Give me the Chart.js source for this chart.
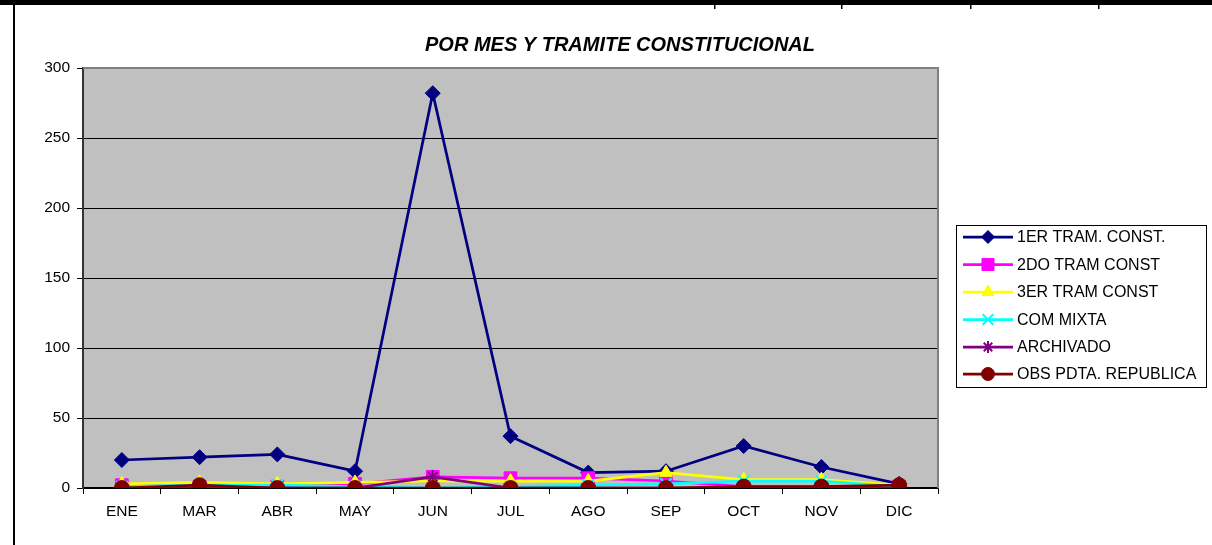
<!DOCTYPE html>
<html><head><meta charset="utf-8">
<script src="https://cdn.jsdelivr.net/npm/chart.js@4/dist/chart.umd.min.js"></script>
<style>html,body{margin:0;padding:0;background:#fff;overflow:hidden}canvas{display:block}</style>
</head><body>
<canvas id="c" width="1212" height="545" style="width:1212px;height:545px"></canvas>
<script>
// ---- data ----
const categories = ['ENE','MAR','ABR','MAY','JUN','JUL','AGO','SEP','OCT','NOV','DIC'];
const seriesNames = ['1ER TRAM. CONST.','2DO TRAM CONST','3ER TRAM CONST','COM MIXTA','ARCHIVADO','OBS PDTA. REPUBLICA'];
const primerTramite  = [20, 22, 24, 12, 282, 37, 11, 12, 30, 15, 3];
const segundoTramite = [2, 1, 1, 3, 8, 7, 7, 5, 1, 1, 1];
const tercerTramite  = [3, 4, 3, 4, 5, 5, 5, 11, 6, 6, 2];
const comMixta       = [1, 2, 2, 1, 0, 1, 2, 3, 5, 5, 1];
const archivado      = [0, 0, 0, 0, 8, 0, 0, 0, 0, 0, 0];
const obsPdta        = [0, 2, 0, 0, 0, 0, 0, 0, 1, 1, 2];
const yTicks = [0, 50, 100, 150, 200, 250, 300];
const chartTitle = 'POR MES Y TRAMITE CONSTITUCIONAL';

// ---- styles ----
const FONT = 'Liberation Sans, Arial, sans-serif';
const seriesValues = [primerTramite, segundoTramite, tercerTramite, comMixta, archivado, obsPdta];
const seriesStyles = [
  {color:'#000080', point:'rectRot',  r:7.5, lr:6.5, bw:1},
  {color:'#FF00FF', point:'rect',     r:9,   lr:8.5, bw:1},
  {color:'#FFFF00', point:'triangle', r:7.5, lr:7,   bw:1},
  {color:'#00FFFF', point:'crossRot', r:8,   lr:7.5, bw:2},
  {color:'#800080', point:'star',     r:6.5, lr:6,   bw:2},
  {color:'#800000', point:'circle',   r:7.5, lr:6.5, bw:1}
];
const PLOT = {left:83, right:938, top:68, bottom:488};

Chart.defaults.font.family = FONT;

const datasets = seriesValues.map((vals, i) => ({
  label: seriesNames[i],
  data: vals,
  borderColor: seriesStyles[i].color,
  backgroundColor: seriesStyles[i].color,
  pointBackgroundColor: seriesStyles[i].color,
  pointBorderColor: seriesStyles[i].color,
  pointStyle: seriesStyles[i].point,
  pointRadius: seriesStyles[i].r,
  pointBorderWidth: seriesStyles[i].bw,
  pointHoverRadius: seriesStyles[i].r,
  borderWidth: 2.75,
  tension: 0,
  fill: false,
  order: seriesValues.length - 1 - i
}));

function drawMarker(ctx, st, x, y) {
  ctx.save();
  ctx.fillStyle = st.color;
  ctx.strokeStyle = st.color;
  ctx.lineWidth = st.bw;
  if (Chart.helpers && Chart.helpers.drawPoint) {
    Chart.helpers.drawPoint(ctx, {pointStyle: st.point, radius: st.lr, borderWidth: st.bw, rotation: 0}, x, y);
  } else {
    ctx.beginPath(); ctx.arc(x, y, st.lr, 0, Math.PI*2); ctx.fill();
  }
  ctx.restore();
}

const framePlugin = {
  id: 'frame',
  beforeDraw(chart) {
    const {ctx, chartArea: a} = chart;
    ctx.save();
    ctx.fillStyle = '#fff';
    ctx.fillRect(0, 0, chart.width, chart.height);
    ctx.fillStyle = '#C0C0C0';
    ctx.fillRect(a.left, a.top, a.right - a.left, a.bottom - a.top);
    ctx.restore();
  },
  beforeDatasetsDraw(chart) {
    const {ctx, chartArea: a} = chart;
    ctx.save();
    ctx.strokeStyle = '#808080';
    ctx.lineWidth = 2;
    ctx.beginPath();
    ctx.moveTo(a.left, a.top); ctx.lineTo(a.right, a.top); ctx.lineTo(a.right, a.bottom);
    ctx.stroke();
    ctx.restore();
  },
  afterDraw(chart) {
    const ctx = chart.ctx;
    ctx.save();
    // page frame
    ctx.fillStyle = '#000';
    ctx.fillRect(0, 0, chart.width, 5);
    [714, 841, 970, 1098].forEach(x => ctx.fillRect(x, 0, 1.5, 9));
    ctx.fillRect(13, 0, 2, chart.height);
    // title
    ctx.font = 'italic bold 20px ' + FONT;
    ctx.textAlign = 'center';
    ctx.textBaseline = 'middle';
    ctx.fillText(chartTitle, 620, 45);
    // legend
    const bx = 956, by = 225, bw = 250, bh = 162;
    ctx.fillStyle = '#fff';
    ctx.fillRect(bx, by, bw, bh);
    ctx.strokeStyle = '#000';
    ctx.lineWidth = 1;
    ctx.strokeRect(bx + 0.5, by + 0.5, bw, bh);
    const rowY = [237, 264.5, 292, 319.5, 347, 374];
    seriesNames.forEach((name, i) => {
      const st = seriesStyles[i];
      const y = rowY[i];
      ctx.strokeStyle = st.color;
      ctx.lineWidth = 2.75;
      ctx.beginPath(); ctx.moveTo(963, y); ctx.lineTo(1013, y); ctx.stroke();
      drawMarker(ctx, st, 988, y);
      ctx.fillStyle = '#000';
      ctx.font = '16px ' + FONT;
      ctx.textAlign = 'left';
      ctx.textBaseline = 'middle';
      ctx.fillText(name, 1017, y + 1);
    });
    ctx.restore();
  }
};

new Chart(document.getElementById('c'), {
  type: 'line',
  data: { labels: categories, datasets },
  options: {
    responsive: false,
    animation: false,
    devicePixelRatio: 1,
    layout: { padding: { top: PLOT.top, right: 1212 - PLOT.right, bottom: 0, left: 0 } },
    plugins: { legend: { display: false }, tooltip: { enabled: false }, title: { display: false } },
    scales: {
      x: {
        type: 'category',
        offset: true,
        grid: { offset: true, drawOnChartArea: false, drawTicks: true, tickLength: 6, color: '#000', lineWidth: 1 },
        border: { display: true, color: '#000', width: 1.5 },
        ticks: { color: '#000', font: { size: 15.5, family: FONT }, padding: 8, maxRotation: 0, autoSkip: false },
        afterFit(s) { s.height = 545 - PLOT.bottom; }
      },
      y: {
        min: yTicks[0],
        max: yTicks[yTicks.length - 1],
        afterBuildTicks(s) { s.ticks = yTicks.map(v => ({ value: v })); },
        grid: {
          color: c => (c.tick && c.tick.value === yTicks[yTicks.length - 1]) ? 'rgba(0,0,0,0)' : '#000',
          tickColor: '#000',
          lineWidth: 1,
          tickLength: 6,
          drawTicks: true
        },
        border: { display: true, color: '#333', width: 2 },
        ticks: { color: '#000', font: { size: 15.5, family: FONT }, padding: 7 },
        afterFit(s) { s.width = PLOT.left; }
      }
    }
  },
  plugins: [framePlugin]
});
</script>
</body></html>
